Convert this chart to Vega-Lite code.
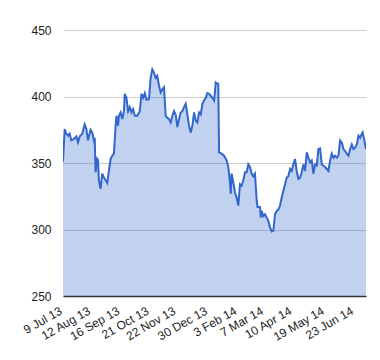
{
  "$schema": "https://vega.github.io/schema/vega-lite/v6.json",
  "autosize": {"type": "none"},
  "padding": {"left": 63, "top": 30, "right": 14, "bottom": 64},
  "width": 303,
  "height": 266,
  "background": "white",
  "config": {
    "view": {"stroke": null},
    "font": "Liberation Sans",
    "axis": {"labelFont": "Liberation Sans", "labelFontSize": 12, "labelColor": "#222222", "ticks": false, "title": null}
  },
  "data": {
    "values": [
      {"date": "2013-07-09", "price": 351},
      {"date": "2013-07-11", "price": 375.5},
      {"date": "2013-07-13", "price": 372},
      {"date": "2013-07-15", "price": 370.5},
      {"date": "2013-07-17", "price": 372},
      {"date": "2013-07-19", "price": 367},
      {"date": "2013-07-22", "price": 368},
      {"date": "2013-07-25", "price": 370},
      {"date": "2013-07-27", "price": 365.5},
      {"date": "2013-07-29", "price": 370},
      {"date": "2013-08-01", "price": 372},
      {"date": "2013-08-04", "price": 379},
      {"date": "2013-08-06", "price": 375.5},
      {"date": "2013-08-08", "price": 367},
      {"date": "2013-08-11", "price": 375},
      {"date": "2013-08-13", "price": 373},
      {"date": "2013-08-15", "price": 367},
      {"date": "2013-08-16", "price": 369},
      {"date": "2013-08-17", "price": 343},
      {"date": "2013-08-19", "price": 353},
      {"date": "2013-08-20", "price": 352},
      {"date": "2013-08-21", "price": 337},
      {"date": "2013-08-23", "price": 330.5},
      {"date": "2013-08-25", "price": 342},
      {"date": "2013-08-27", "price": 339},
      {"date": "2013-08-29", "price": 337},
      {"date": "2013-08-31", "price": 335},
      {"date": "2013-09-02", "price": 344},
      {"date": "2013-09-04", "price": 353},
      {"date": "2013-09-06", "price": 355.5},
      {"date": "2013-09-08", "price": 357},
      {"date": "2013-09-10", "price": 378},
      {"date": "2013-09-11", "price": 385.5},
      {"date": "2013-09-13", "price": 378},
      {"date": "2013-09-14", "price": 385.5},
      {"date": "2013-09-16", "price": 388},
      {"date": "2013-09-18", "price": 383},
      {"date": "2013-09-20", "price": 389},
      {"date": "2013-09-21", "price": 402},
      {"date": "2013-09-23", "price": 399},
      {"date": "2013-09-25", "price": 389},
      {"date": "2013-09-27", "price": 392},
      {"date": "2013-09-29", "price": 388},
      {"date": "2013-10-01", "price": 390.5},
      {"date": "2013-10-03", "price": 385.5},
      {"date": "2013-10-06", "price": 385.5},
      {"date": "2013-10-09", "price": 389},
      {"date": "2013-10-11", "price": 402},
      {"date": "2013-10-13", "price": 399},
      {"date": "2013-10-15", "price": 402.5},
      {"date": "2013-10-17", "price": 397.5},
      {"date": "2013-10-20", "price": 398},
      {"date": "2013-10-22", "price": 414},
      {"date": "2013-10-24", "price": 420.5},
      {"date": "2013-10-26", "price": 418},
      {"date": "2013-10-28", "price": 414},
      {"date": "2013-10-30", "price": 415.5},
      {"date": "2013-11-01", "price": 408},
      {"date": "2013-11-03", "price": 403},
      {"date": "2013-11-05", "price": 405.5},
      {"date": "2013-11-07", "price": 407},
      {"date": "2013-11-09", "price": 385.5},
      {"date": "2013-11-11", "price": 384},
      {"date": "2013-11-13", "price": 383},
      {"date": "2013-11-15", "price": 380.5},
      {"date": "2013-11-17", "price": 385.5},
      {"date": "2013-11-19", "price": 389},
      {"date": "2013-11-21", "price": 386.5},
      {"date": "2013-11-23", "price": 377},
      {"date": "2013-11-25", "price": 383},
      {"date": "2013-11-27", "price": 388},
      {"date": "2013-11-29", "price": 389},
      {"date": "2013-12-01", "price": 392},
      {"date": "2013-12-03", "price": 394.5},
      {"date": "2013-12-05", "price": 386.5},
      {"date": "2013-12-07", "price": 378},
      {"date": "2013-12-09", "price": 373},
      {"date": "2013-12-11", "price": 378},
      {"date": "2013-12-13", "price": 388},
      {"date": "2013-12-15", "price": 382},
      {"date": "2013-12-17", "price": 380.5},
      {"date": "2013-12-19", "price": 388},
      {"date": "2013-12-21", "price": 386.5},
      {"date": "2013-12-23", "price": 394.5},
      {"date": "2013-12-25", "price": 397},
      {"date": "2013-12-27", "price": 399},
      {"date": "2013-12-29", "price": 402.5},
      {"date": "2013-12-31", "price": 402},
      {"date": "2014-01-02", "price": 400.5},
      {"date": "2014-01-04", "price": 399},
      {"date": "2014-01-06", "price": 397},
      {"date": "2014-01-08", "price": 410.5},
      {"date": "2014-01-10", "price": 409.5},
      {"date": "2014-01-11", "price": 409.5},
      {"date": "2014-01-12", "price": 358},
      {"date": "2014-01-15", "price": 357},
      {"date": "2014-01-18", "price": 355.5},
      {"date": "2014-01-21", "price": 352},
      {"date": "2014-01-23", "price": 347},
      {"date": "2014-01-25", "price": 335.5},
      {"date": "2014-01-26", "price": 327},
      {"date": "2014-01-27", "price": 342},
      {"date": "2014-01-29", "price": 335.5},
      {"date": "2014-01-31", "price": 328},
      {"date": "2014-02-02", "price": 324},
      {"date": "2014-02-04", "price": 318},
      {"date": "2014-02-06", "price": 334},
      {"date": "2014-02-08", "price": 333},
      {"date": "2014-02-10", "price": 337},
      {"date": "2014-02-12", "price": 343},
      {"date": "2014-02-14", "price": 343},
      {"date": "2014-02-16", "price": 349},
      {"date": "2014-02-18", "price": 347},
      {"date": "2014-02-20", "price": 342},
      {"date": "2014-02-22", "price": 340},
      {"date": "2014-02-24", "price": 342},
      {"date": "2014-02-26", "price": 322},
      {"date": "2014-02-27", "price": 317},
      {"date": "2014-03-02", "price": 317},
      {"date": "2014-03-03", "price": 309},
      {"date": "2014-03-04", "price": 314},
      {"date": "2014-03-06", "price": 310},
      {"date": "2014-03-08", "price": 311.5},
      {"date": "2014-03-10", "price": 309},
      {"date": "2014-03-12", "price": 306.5},
      {"date": "2014-03-14", "price": 301.5},
      {"date": "2014-03-16", "price": 298.5},
      {"date": "2014-03-18", "price": 299},
      {"date": "2014-03-20", "price": 311.5},
      {"date": "2014-03-22", "price": 314},
      {"date": "2014-03-24", "price": 315},
      {"date": "2014-03-26", "price": 318},
      {"date": "2014-03-28", "price": 324},
      {"date": "2014-03-30", "price": 329},
      {"date": "2014-04-01", "price": 334},
      {"date": "2014-04-03", "price": 339},
      {"date": "2014-04-05", "price": 340},
      {"date": "2014-04-07", "price": 345.5},
      {"date": "2014-04-09", "price": 344},
      {"date": "2014-04-11", "price": 349},
      {"date": "2014-04-13", "price": 353},
      {"date": "2014-04-15", "price": 344},
      {"date": "2014-04-17", "price": 338},
      {"date": "2014-04-19", "price": 339},
      {"date": "2014-04-21", "price": 343},
      {"date": "2014-04-23", "price": 349},
      {"date": "2014-04-25", "price": 344},
      {"date": "2014-04-27", "price": 358},
      {"date": "2014-04-29", "price": 354},
      {"date": "2014-05-01", "price": 350.5},
      {"date": "2014-05-03", "price": 352},
      {"date": "2014-05-05", "price": 342},
      {"date": "2014-05-07", "price": 349},
      {"date": "2014-05-09", "price": 348},
      {"date": "2014-05-11", "price": 360.5},
      {"date": "2014-05-13", "price": 361},
      {"date": "2014-05-15", "price": 349},
      {"date": "2014-05-17", "price": 348},
      {"date": "2014-05-19", "price": 347},
      {"date": "2014-05-21", "price": 345.5},
      {"date": "2014-05-23", "price": 344},
      {"date": "2014-05-25", "price": 352},
      {"date": "2014-05-27", "price": 357},
      {"date": "2014-05-29", "price": 354},
      {"date": "2014-05-31", "price": 355.5},
      {"date": "2014-06-02", "price": 354},
      {"date": "2014-06-04", "price": 355.5},
      {"date": "2014-06-06", "price": 367},
      {"date": "2014-06-08", "price": 365.5},
      {"date": "2014-06-10", "price": 360.5},
      {"date": "2014-06-12", "price": 359},
      {"date": "2014-06-14", "price": 357},
      {"date": "2014-06-16", "price": 355.5},
      {"date": "2014-06-18", "price": 360.5},
      {"date": "2014-06-20", "price": 364},
      {"date": "2014-06-22", "price": 360.5},
      {"date": "2014-06-24", "price": 361.5},
      {"date": "2014-06-26", "price": 364},
      {"date": "2014-06-28", "price": 370.5},
      {"date": "2014-06-30", "price": 369},
      {"date": "2014-07-02", "price": 372},
      {"date": "2014-07-03", "price": 373},
      {"date": "2014-07-05", "price": 367},
      {"date": "2014-07-07", "price": 360.5}
    ]
  },
  "mark": {
    "type": "area",
    "color": "#3366cc",
    "fillOpacity": 0.3,
    "clip": true,
    "line": {"color": "#3366cc", "strokeWidth": 2}
  },
  "encoding": {
    "x": {
      "field": "date",
      "type": "temporal",
      "scale": {"type": "utc", "nice": false},
      "axis": {
        "values": [
          {"year": 2013, "month": 7, "date": 9, "utc": true},
          {"year": 2013, "month": 8, "date": 12, "utc": true},
          {"year": 2013, "month": 9, "date": 16, "utc": true},
          {"year": 2013, "month": 10, "date": 21, "utc": true},
          {"year": 2013, "month": 11, "date": 22, "utc": true},
          {"year": 2013, "month": 12, "date": 30, "utc": true},
          {"year": 2014, "month": 2, "date": 3, "utc": true},
          {"year": 2014, "month": 3, "date": 7, "utc": true},
          {"year": 2014, "month": 4, "date": 10, "utc": true},
          {"year": 2014, "month": 5, "date": 19, "utc": true},
          {"year": 2014, "month": 6, "date": 23, "utc": true}
        ],
        "format": "%-d %b %y",
        "labelAngle": -30,
        "labelAlign": "right",
        "labelBaseline": "top",
        "labelPadding": 9,
        "labelOffset": -5,
        "labelOverlap": false,
        "labelBound": false,
        "labelFlush": false,
        "grid": false,
        "domain": true,
        "domainColor": "#333333",
        "domainWidth": 1.5
      }
    },
    "y": {
      "field": "price",
      "type": "quantitative",
      "scale": {"domain": [250, 450], "nice": false, "zero": false},
      "axis": {
        "values": [250, 300, 350, 400, 450],
        "domain": false,
        "grid": true,
        "gridColor": "#cccccc",
        "labelPadding": 12
      }
    }
  }
}
